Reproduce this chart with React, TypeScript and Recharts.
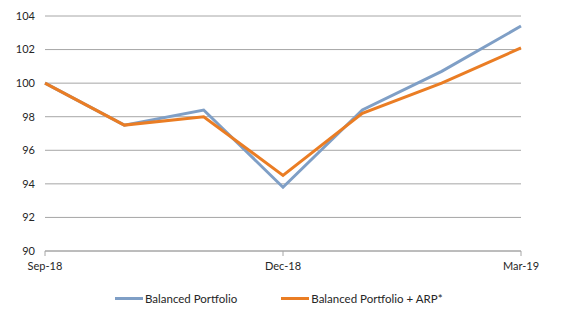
import React from 'react';
import { LineChart, Line, XAxis, YAxis, CartesianGrid } from 'recharts';

const categories = ['Sep-18', 'Oct-18', 'Nov-18', 'Dec-18', 'Jan-19', 'Feb-19', 'Mar-19'];
const balanced = [100, 97.5, 98.4, 93.8, 98.4, 100.7, 103.4];
const balancedArp = [100, 97.5, 98.0, 94.5, 98.2, 100.0, 102.1];
const yTicks = [90, 92, 94, 96, 98, 100, 102, 104];
const seriesNames = ['Balanced Portfolio', 'Balanced Portfolio + ARP*'];
const colors = ['#7F9FC6', '#EA7D24'];

const data = categories.map((c, i) => ({ name: c, a: balanced[i], b: balancedArp[i] }));

const FONT = 'Lato, "Open Sans", sans-serif';

export default function App() {
  return (
    <div style={{ position: 'absolute', left: 0, top: 0, width: 569, height: 323, background: '#fff', fontFamily: FONT }}>
      <LineChart width={569} height={281} data={data} margin={{ top: 16, right: 48, bottom: 0, left: 0 }}>
        <CartesianGrid vertical={false} stroke="#A6A6A6" strokeWidth={1} />
        <XAxis
          dataKey="name"
          interval={2}
          height={30}
          stroke="#A6A6A6"
          tickSize={5}
          tickMargin={6}
          tick={{ fill: '#262626', fontSize: 11, fontFamily: FONT }}
        />
        <YAxis
          domain={[90, 104]}
          ticks={yTicks}
          width={45}
          axisLine={false}
          tickLine={false}
          tickMargin={4}
          tick={{ fill: '#262626', fontSize: 11, fontFamily: FONT }}
        />
        <Line type="linear" dataKey="a" stroke={colors[0]} strokeWidth={3} dot={false} isAnimationActive={false} />
        <Line type="linear" dataKey="b" stroke={colors[1]} strokeWidth={3} dot={false} isAnimationActive={false} />
      </LineChart>
      <div style={{ position: 'absolute', left: 115, top: 292, display: 'flex', alignItems: 'center', fontSize: 11.5, color: '#262626' }}>
        {seriesNames.map((n, i) => (
          <div key={n} style={{ display: 'flex', alignItems: 'center', marginRight: i === 0 ? 44 : 0 }}>
            <div style={{ width: 28, height: 3, background: colors[i], marginRight: 2 }} />
            <span>{n}</span>
          </div>
        ))}
      </div>
    </div>
  );
}
